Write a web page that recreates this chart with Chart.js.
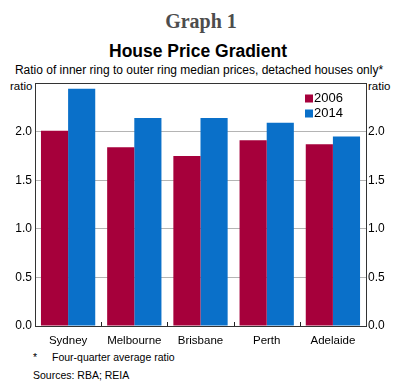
<!DOCTYPE html>
<html>
<head>
<meta charset="utf-8">
<script src="https://cdn.jsdelivr.net/npm/chart.js@4.4.0/dist/chart.umd.min.js"></script>
<style>
  html, body { margin: 0; padding: 0; background: #fff; }
  #wrap { position: relative; width: 400px; height: 387px; overflow: hidden; font-family: "Liberation Sans", Arial, sans-serif; }
  #wrap canvas { position: absolute; left: 0; top: 0; }
  .t { position: absolute; white-space: nowrap; line-height: 1; }
  .c { transform: translateX(-50%); }
</style>
</head>
<body>
<div id="wrap">
  <div class="t c" style="left:201px;top:11px;font-family:'Liberation Serif',serif;font-weight:bold;font-size:20px;color:#4d4d4d;">Graph 1</div>
  <div class="t c" style="left:198px;top:43px;font-weight:bold;font-size:17.5px;color:#000;">House Price Gradient</div>
  <div class="t c" style="left:199px;top:64px;font-size:12px;color:#000;">Ratio of inner ring to outer ring median prices, detached houses only*</div>
  <div class="t" style="left:10px;top:81px;font-size:11.5px;color:#000;">ratio</div>
  <div class="t" style="left:368px;top:81px;font-size:11.5px;color:#000;">ratio</div>
  <div class="t" style="left:33px;top:352px;font-size:10.5px;color:#000;">*</div>
  <div class="t" style="left:52px;top:352px;font-size:10.5px;color:#000;">Four-quarter average ratio</div>
  <div class="t" style="left:33px;top:370px;font-size:10.5px;color:#000;">Sources: RBA; REIA</div>
  <div style="position:absolute;left:0;top:0;width:400px;height:387px;"><canvas id="c"></canvas></div>
</div>
<script>
const categories = ["Sydney", "Melbourne", "Brisbane", "Perth", "Adelaide"];
const seriesLabels = ["2006", "2014"];
const values2006 = [2.01, 1.84, 1.75, 1.91, 1.87];
const values2014 = [2.44, 2.14, 2.14, 2.09, 1.95];
const yTicks = [0, 0.5, 1.0, 1.5, 2.0, 2.5];
const colors = ["#A6003B", "#0A70C9"];

const framePlugin = {
  id: 'frame',
  afterDatasetsDraw(chart) {
    const { ctx, chartArea: a, scales } = chart;
    ctx.save();
    const x = scales.x;
    ctx.strokeStyle = '#222';
    ctx.lineWidth = 1;
    for (let i = 1; i < categories.length; i++) {
      const px = Math.round((x.getPixelForTick(i - 1) + x.getPixelForTick(i)) / 2) + 0.5;
      ctx.beginPath();
      ctx.moveTo(px, a.bottom);
      ctx.lineTo(px, a.bottom - 4);
      ctx.stroke();
    }
    ctx.strokeStyle = '#333';
    ctx.strokeRect(Math.round(a.left) + 0.5, Math.round(a.top) + 0.5, Math.round(a.right - a.left), Math.round(a.bottom - a.top));
    ctx.font = '13px "Liberation Sans", Arial, sans-serif';
    ctx.textBaseline = 'middle';
    chart.data.datasets.forEach((ds, i) => {
      const y = 98.5 + i * 15;
      ctx.fillStyle = ds.backgroundColor;
      ctx.fillRect(305, y - 4, 8, 8);
      ctx.fillStyle = '#000';
      ctx.fillText(ds.label, 314, y);
    });
    ctx.restore();
  }
};

new Chart(document.getElementById('c'), {
  type: 'bar',
  data: {
    labels: categories,
    datasets: [
      { label: seriesLabels[0], data: values2006, backgroundColor: colors[0], yAxisID: 'y' },
      { label: seriesLabels[1], data: values2014, backgroundColor: colors[1], yAxisID: 'y' }
    ]
  },
  options: {
    responsive: true,
    maintainAspectRatio: false,
    animation: false,
    events: [],
    layout: { padding: { top: 83, left: 0, right: 0, bottom: 0 } },
    datasets: { bar: { barPercentage: 1.0, categoryPercentage: 0.82 } },
    plugins: { legend: { display: false }, title: { display: false }, tooltip: { enabled: false } },
    scales: {
      x: {
        grid: { display: false, drawTicks: false },
        border: { display: false },
        ticks: { color: '#000', padding: 8, font: { family: '"Liberation Sans", Arial, sans-serif', size: 11.5 } },
        afterFit(s) { s.height = 61; }
      },
      y: {
        position: 'left',
        min: 0, max: 2.5,
        afterBuildTicks(s) { s.ticks = yTicks.map(v => ({ value: v })); },
        grid: { color: '#b4b4b4', drawTicks: false },
        border: { display: false },
        ticks: {
          color: '#000', padding: 3,
          font: { family: '"Liberation Sans", Arial, sans-serif', size: 12 },
          callback: v => (v >= 2.5 ? '' : Number(v).toFixed(1))
        },
        afterFit(s) { s.width = 35; }
      },
      y2: {
        position: 'right',
        min: 0, max: 2.5,
        afterBuildTicks(s) { s.ticks = yTicks.map(v => ({ value: v })); },
        grid: { drawOnChartArea: false, drawTicks: false },
        border: { display: false },
        ticks: {
          color: '#000', padding: 2,
          font: { family: '"Liberation Sans", Arial, sans-serif', size: 12 },
          callback: v => (v >= 2.5 ? '' : Number(v).toFixed(1))
        },
        afterFit(s) { s.width = 34; }
      }
    }
  },
  plugins: [framePlugin]
});
</script>
</body>
</html>
